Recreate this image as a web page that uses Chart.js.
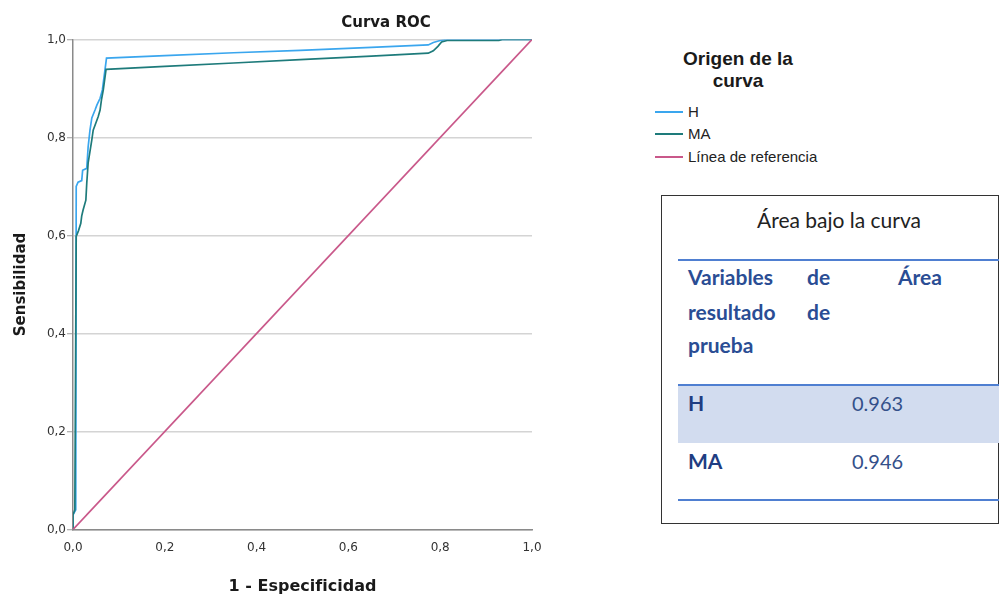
<!DOCTYPE html>
<html lang="es">
<head>
<meta charset="utf-8">
<title>Curva ROC</title>
<script src="https://cdn.jsdelivr.net/npm/chart.js@4.4.1/dist/chart.umd.min.js"></script>
<style>
  html, body { margin: 0; padding: 0; background: #fff; }
  #page { position: relative; width: 1001px; height: 596px; overflow: hidden; background: #fff; }
  #plotBox { position: absolute; left: 0; top: 0; width: 560px; height: 596px; }
  #chartTitle { position: absolute; left: 286px; width: 200px; top: 13px; text-align: center;
    font: bold 15px/18px "DejaVu Sans", sans-serif; color: #1a1a1a; }
  .legTitle { position: absolute; left: 655px; top: 48px; width: 166px; text-align: center;
    font: bold 19px/22px "Liberation Sans", Arial, sans-serif; color: #1a1a1a; }
  .legRow { position: absolute; left: 655px; height: 22px; font: 15px/22px "Liberation Sans", Arial, sans-serif; color: #222; white-space: nowrap; }
  .legRow .sw { position: absolute; left: 0; top: 10px; width: 28px; height: 2px; }
  .legRow .tx { position: absolute; left: 33px; top: 0; }
  #aucBox { position: absolute; left: 661px; top: 195px; width: 338px; height: 329px; box-sizing: border-box; border: 1.5px solid #333; }
  .tline { position: absolute; left: 678px; width: 321px; height: 2px; background: #4f7fd1; }
  .shade { position: absolute; left: 678px; width: 321px; background: #d2dcef; }
  .tt { position: absolute; white-space: nowrap; font-family: Lato, "Open Sans", sans-serif; line-height: 26px; }
  .hd { font-weight: bold; font-size: 21px; color: #2a4d94; }
  .rl { font-weight: bold; font-size: 21px; color: #1f3d82; }
  .vl { font-size: 20px; color: #34508a; }
</style>
</head>
<body>
<div id="page">
  <div id="plotBox"><canvas id="roc"></canvas></div>
  <div id="chartTitle">Curva ROC</div>
  <div class="legTitle">Origen de la<br>curva</div>
  <div id="legendRows"></div>

  <div id="aucBox"></div>
  <div class="tt" style="left:719px; width:240px; top:207px; text-align:center; font-size:21px; color:#222;">Área bajo la curva</div>
  <div class="tline" style="top:259px;"></div>
  <div class="tt hd" style="left:688px; top:264px;">Variables</div>
  <div class="tt hd" style="left:807px; top:264px;">de</div>
  <div class="tt hd" style="left:898px; top:264px;">Área</div>
  <div class="tt hd" style="left:688px; top:299px;">resultado</div>
  <div class="tt hd" style="left:807px; top:299px;">de</div>
  <div class="tt hd" style="left:688px; top:332px;">prueba</div>
  <div class="tline" style="top:384px;"></div>
  <div class="shade" style="top:386px; height:57px;"></div>
  <div id="aucRows"></div>
  <div class="tline" style="top:499px;"></div>
</div>

<script>
// ROC curve for H: false positive rate (1 - especificidad) and sensitivity
const hFpr = [0, 0, 0.006, 0.007, 0.011, 0.019, 0.021, 0.030, 0.033, 0.037, 0.041, 0.048, 0.052, 0.059, 0.064, 0.073,
              0.20, 0.35, 0.495, 0.65, 0.774, 0.785, 0.80, 0.815, 1];
const hTpr = [0, 0.03, 0.04, 0.700, 0.709, 0.712, 0.733, 0.737, 0.781, 0.815, 0.840, 0.856, 0.866, 0.880, 0.897, 0.962,
              0.967, 0.973, 0.978, 0.984, 0.989, 0.994, 0.998, 1, 1];

// ROC curve for MA
const maFpr = [0, 0, 0.004, 0.007, 0.012, 0.017, 0.019, 0.022, 0.028, 0.030, 0.033, 0.041, 0.044, 0.050, 0.055, 0.059, 0.062, 0.066, 0.072,
               0.20, 0.35, 0.495, 0.65, 0.774, 0.785, 0.795, 0.803, 0.815, 0.928, 0.935, 1];
const maTpr = [0, 0.03, 0.04, 0.598, 0.610, 0.625, 0.640, 0.652, 0.672, 0.707, 0.748, 0.795, 0.815, 0.830, 0.843, 0.856, 0.877, 0.897, 0.939,
               0.945, 0.952, 0.959, 0.966, 0.972, 0.977, 0.986, 0.995, 0.998, 0.998, 1, 1];

// Diagonal reference line
const refX = [0, 1];
const refY = [0, 1];

const xTickLabels = ['0,0', '0,2', '0,4', '0,6', '0,8', '1,0'];
const yTickLabels = ['0,0', '0,2', '0,4', '0,6', '0,8', '1,0'];

const seriesNames = ['H', 'MA', 'Línea de referencia'];
const seriesColors = ['#3aa6ee', '#1e7b7b', '#c9588a'];

// Area under the curve table
const aucLabels = ['H', 'MA'];
const aucValues = [0.963, 0.946];

const toPoints = (xs, ys) => xs.map((x, i) => ({ x: x, y: ys[i] }));

const lineSet = (name, color, pts, order) => ({
  label: name,
  data: pts,
  showLine: true,
  borderColor: color,
  backgroundColor: color,
  borderWidth: 1.7,
  pointRadius: 0,
  pointHoverRadius: 0,
  tension: 0,
  fill: false,
  order: order
});

Chart.defaults.font.family = '"DejaVu Sans", sans-serif';

new Chart(document.getElementById('roc'), {
  type: 'scatter',
  data: {
    datasets: [
      lineSet(seriesNames[0], seriesColors[0], toPoints(hFpr, hTpr), 3),
      lineSet(seriesNames[1], seriesColors[1], toPoints(maFpr, maTpr), 2),
      lineSet(seriesNames[2], seriesColors[2], toPoints(refX, refY), 1)
    ]
  },
  options: {
    responsive: true,
    maintainAspectRatio: false,
    animation: false,
    devicePixelRatio: 1,
    layout: { padding: { top: 39.5, right: 28, bottom: 0, left: 0 } },
    plugins: { legend: { display: false }, tooltip: { enabled: false }, title: { display: false } },
    scales: {
      x: {
        type: 'linear', min: 0, max: 1,
        afterFit: s => { s.height = 66.5; },
        grid: { display: false, drawTicks: false },
        border: { display: true, color: '#8a8a8a', width: 1.5 },
        ticks: { stepSize: 0.2, padding: 11, color: '#333', font: { size: 12 },
                 callback: (v, i) => xTickLabels[i] },
        title: { display: true, text: '1 - Especificidad', color: '#1a1a1a',
                 font: { size: 16, weight: 'bold' }, padding: { top: 0, bottom: 0 } }
      },
      y: {
        type: 'linear', min: 0, max: 1,
        afterFit: s => { s.width = 73; },
        grid: { color: '#d4d4d4', lineWidth: 1.5, drawTicks: true, tickLength: 6, tickColor: '#9a9a9a', tickWidth: 1 },
        border: { display: true, color: '#8a8a8a', width: 1.5 },
        ticks: { stepSize: 0.2, padding: 1, color: '#333', font: { size: 12 },
                 callback: (v, i) => yTickLabels[i] },
        title: { display: true, text: 'Sensibilidad', color: '#1a1a1a',
                 font: { size: 15, weight: 'bold' }, padding: { top: 12, bottom: 0 } }
      }
    }
  }
});

// Legend rows
const legendRows = document.getElementById('legendRows');
seriesNames.forEach((name, i) => {
  const row = document.createElement('div');
  row.className = 'legRow';
  row.style.top = (100.5 + i * 22.5) + 'px';
  const sw = document.createElement('div');
  sw.className = 'sw';
  sw.style.background = seriesColors[i];
  const tx = document.createElement('div');
  tx.className = 'tx';
  tx.textContent = name;
  row.appendChild(sw);
  row.appendChild(tx);
  legendRows.appendChild(row);
});

// Table rows
const aucRows = document.getElementById('aucRows');
aucLabels.forEach((lab, i) => {
  const top = 390 + i * 58;
  const a = document.createElement('div');
  a.className = 'tt rl';
  a.style.left = '688px';
  a.style.top = top + 'px';
  a.textContent = lab;
  const b = document.createElement('div');
  b.className = 'tt vl';
  b.style.left = '852px';
  b.style.top = top + 'px';
  b.textContent = aucValues[i].toFixed(3);
  aucRows.appendChild(a);
  aucRows.appendChild(b);
});
</script>
</body>
</html>
